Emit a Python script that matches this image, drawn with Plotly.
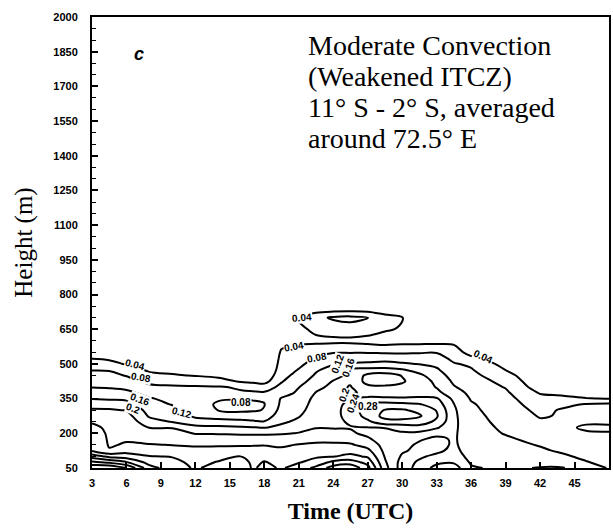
import numpy as np
import plotly.graph_objects as go

# ---------------- data ----------------
TIMES = [3, 4.5, 6, 8, 10, 12, 14, 16, 17, 18, 19.5, 21, 22.5, 24, 25.5, 27,
         28.5, 30, 31.5, 33, 34.5, 36, 39, 42, 44, 46, 48]
HEIGHTS = [50, 75, 100, 125, 150, 175, 200, 225, 250, 275, 300, 325, 350, 375,
           400, 425, 450, 475, 500, 525, 550, 600, 650, 700, 750, 2000]

# one vertical profile (bottom -> top, at HEIGHTS) per time in TIMES
P_T03 = [0.47, 0.41, 0.34, 0.277, 0.272, 0.268, 0.263, 0.252, 0.235, 0.22, 0.205, 0.185, 0.158, 0.14, 0.118, 0.107, 0.093, 0.078, 0.059, 0.038, 0.025, 0, 0, 0, 0, 0]
P_T045 = [0.48, 0.39, 0.31, 0.243, 0.237, 0.235, 0.233, 0.23, 0.226, 0.22, 0.205, 0.18, 0.155, 0.136, 0.116, 0.104, 0.09, 0.077, 0.055, 0.032, 0.02, 0, 0, 0, 0, 0]
P_T06 = [0.44, 0.362, 0.30, 0.265, 0.243, 0.237, 0.234, 0.23, 0.225, 0.215, 0.198, 0.175, 0.152, 0.13, 0.11, 0.095, 0.078, 0.06, 0.036, 0.02, 0.01, 0, 0, 0, 0, 0]
P_T08 = [0.335, 0.305, 0.282, 0.26, 0.242, 0.227, 0.213, 0.199, 0.175, 0.155, 0.145, 0.135, 0.123, 0.106, 0.089, 0.07, 0.051, 0.033, 0.02, 0.01, 0.005, 0, 0, 0, 0, 0]
P_T10 = [0.30, 0.29, 0.278, 0.258, 0.239, 0.226, 0.212, 0.198, 0.158, 0.145, 0.132, 0.118, 0.11, 0.1, 0.085, 0.066, 0.044, 0.028, 0.015, 0.005, 0, 0, 0, 0, 0, 0]
P_T12 = [0.275, 0.27, 0.262, 0.25, 0.236, 0.218, 0.198, 0.172, 0.138, 0.112, 0.1, 0.094, 0.09, 0.087, 0.083, 0.066, 0.038, 0.02, 0.01, 0, 0, 0, 0, 0, 0, 0]
P_T14 = [0.295, 0.282, 0.27, 0.252, 0.236, 0.218, 0.197, 0.17, 0.133, 0.105, 0.079, 0.076, 0.083, 0.087, 0.083, 0.055, 0.03, 0.015, 0.005, 0, 0, 0, 0, 0, 0, 0]
P_T16 = [0.31, 0.296, 0.281, 0.256, 0.236, 0.216, 0.195, 0.165, 0.13, 0.1, 0.072, 0.07, 0.082, 0.084, 0.075, 0.035, 0.015, 0.005, 0, 0, 0, 0, 0, 0, 0, 0]
P_T17 = [0.274, 0.272, 0.268, 0.255, 0.237, 0.217, 0.194, 0.162, 0.125, 0.1, 0.075, 0.074, 0.083, 0.084, 0.07, 0.03, 0.012, 0.002, 0, 0, 0, 0, 0, 0, 0, 0]
P_T18 = [0.292, 0.282, 0.27, 0.255, 0.238, 0.218, 0.194, 0.158, 0.122, 0.1, 0.082, 0.079, 0.083, 0.084, 0.062, 0.025, 0.01, 0, 0, 0, 0, 0, 0, 0, 0, 0]
P_T195 = [0.275, 0.27, 0.262, 0.247, 0.235, 0.218, 0.196, 0.172, 0.152, 0.14, 0.133, 0.127, 0.123, 0.105, 0.09, 0.077, 0.065, 0.058, 0.052, 0.048, 0.044, 0.03, 0, 0, 0, 0]
P_T21 = [0.3, 0.277, 0.265, 0.252, 0.242, 0.225, 0.202, 0.185, 0.17, 0.157, 0.147, 0.14, 0.133, 0.126, 0.119, 0.107, 0.095, 0.082, 0.07, 0.058, 0.05, 0.035, 0.03, 0.045, 0, 0]
P_T225 = [0.33, 0.295, 0.275, 0.26, 0.245, 0.232, 0.215, 0.198, 0.192, 0.187, 0.182, 0.177, 0.172, 0.162, 0.15, 0.135, 0.125, 0.115, 0.098, 0.083, 0.068, 0.03, 0.05, 0.07, 0, 0]
P_T24 = [0.38, 0.33, 0.278, 0.262, 0.245, 0.232, 0.213, 0.197, 0.19, 0.187, 0.186, 0.185, 0.182, 0.175, 0.17, 0.162, 0.148, 0.133, 0.117, 0.097, 0.078, 0.03, 0.06, 0.085, 0, 0]
P_T255 = [0.39, 0.34, 0.29, 0.265, 0.245, 0.225, 0.205, 0.198, 0.205, 0.215, 0.218, 0.212, 0.198, 0.157, 0.158, 0.165, 0.168, 0.163, 0.125, 0.1, 0.078, 0.03, 0.065, 0.09, 0, 0]
P_T27 = [0.335, 0.305, 0.275, 0.25, 0.225, 0.205, 0.192, 0.199, 0.232, 0.255, 0.26, 0.25, 0.215, 0.165, 0.19, 0.215, 0.21, 0.17, 0.128, 0.1, 0.078, 0.025, 0.06, 0.082, 0, 0]
P_T285 = [0.215, 0.205, 0.197, 0.19, 0.186, 0.182, 0.188, 0.202, 0.267, 0.292, 0.282, 0.255, 0.21, 0.168, 0.195, 0.215, 0.218, 0.172, 0.13, 0.105, 0.075, 0.02, 0.045, 0.055, 0, 0]
P_T30 = [0.14, 0.145, 0.155, 0.165, 0.175, 0.185, 0.195, 0.215, 0.265, 0.3, 0.285, 0.25, 0.208, 0.168, 0.19, 0.205, 0.198, 0.163, 0.125, 0.1, 0.075, 0.025, 0.036, 0.042, 0, 0]
P_T315 = [0.175, 0.165, 0.155, 0.15, 0.152, 0.165, 0.19, 0.225, 0.26, 0.285, 0.27, 0.243, 0.21, 0.172, 0.18, 0.178, 0.168, 0.145, 0.118, 0.098, 0.077, 0.025, 0, 0, 0, 0]
P_T33 = [0.215, 0.19, 0.168, 0.152, 0.145, 0.15, 0.172, 0.205, 0.232, 0.245, 0.238, 0.222, 0.205, 0.17, 0.158, 0.152, 0.14, 0.125, 0.11, 0.095, 0.078, 0.025, 0, 0, 0, 0]
P_T345 = [0.22, 0.195, 0.178, 0.17, 0.166, 0.165, 0.166, 0.168, 0.169, 0.168, 0.166, 0.161, 0.15, 0.138, 0.123, 0.113, 0.103, 0.094, 0.083, 0.07, 0.058, 0.03, 0, 0, 0, 0]
P_T36 = [0.165, 0.155, 0.148, 0.143, 0.14, 0.138, 0.136, 0.134, 0.132, 0.13, 0.127, 0.124, 0.117, 0.11, 0.103, 0.096, 0.09, 0.083, 0.074, 0.048, 0.025, 0, 0, 0, 0, 0]
P_T39 = [0.15, 0.145, 0.14, 0.135, 0.13, 0.125, 0.118, 0.114, 0.11, 0.106, 0.102, 0.097, 0.092, 0.086, 0.078, 0.07, 0.057, 0.039, 0.025, 0.012, 0.005, 0, 0, 0, 0, 0]
P_T42 = [0.163, 0.143, 0.133, 0.125, 0.118, 0.11, 0.101, 0.093, 0.085, 0.077, 0.07, 0.062, 0.053, 0.037, 0.02, 0.008, 0, 0, 0, 0, 0, 0, 0, 0, 0, 0]
P_T44 = [0.162, 0.137, 0.125, 0.115, 0.107, 0.1, 0.093, 0.086, 0.081, 0.083, 0.084, 0.072, 0.05, 0.03, 0.01, 0, 0, 0, 0, 0, 0, 0, 0, 0, 0, 0]
P_T46 = [0.135, 0.122, 0.113, 0.105, 0.098, 0.091, 0.083, 0.076, 0.084, 0.09, 0.091, 0.083, 0.042, 0.02, 0.005, 0, 0, 0, 0, 0, 0, 0, 0, 0, 0, 0]
P_T48 = [0.118, 0.11, 0.104, 0.098, 0.092, 0.087, 0.082, 0.075, 0.085, 0.091, 0.093, 0.087, 0.038, 0.02, 0.005, 0, 0, 0, 0, 0, 0, 0, 0, 0, 0, 0]

PROFILES = [P_T03, P_T045, P_T06, P_T08, P_T10, P_T12, P_T14, P_T16, P_T17, P_T18,
            P_T195, P_T21, P_T225, P_T24, P_T255, P_T27, P_T285, P_T30, P_T315,
            P_T33, P_T345, P_T36, P_T39, P_T42, P_T44, P_T46, P_T48]

LEVEL_START, LEVEL_END, LEVEL_STEP = 0.04, 0.48, 0.04

X_TICKS = [3, 6, 9, 12, 15, 18, 21, 24, 27, 30, 33, 36, 39, 42, 45, 48]
Y_TICKS = [50, 200, 350, 500, 650, 800, 950, 1100, 1250, 1400, 1550, 1700, 1850, 2000]

# contour labels as printed on the figure
LABEL_TEXT = ["0.04", "0.08", "0.16", "0.2", "0.12", "0.08", "0.04", "0.08", "0.04",
              "0.12", "0.16", "0.2", "0.24", "0.28", "0.04"]
LABEL_T = [6.7, 7.3, 7.2, 6.6, 10.8, 16.0, 20.6, 22.6, 21.3,
           24.4, 25.3, 24.9, 25.7, 27.0, 37.0]
LABEL_H = [497, 440, 345, 307, 292, 335, 575, 528, 700,
           500, 486, 365, 330, 315, 530]
LABEL_ANGLE = [15, 10, 20, 20, 15, 0, -10, -10, -5, -70, -70, -70, -70, 0, 25]

INFO_LINES = ["Moderate Convection", "(Weakened ITCZ)",
              "11° S - 2° S, averaged", "around 72.5° E"]

# ---------------- figure ----------------
z = np.array(PROFILES, dtype=float).T

W, H = 613, 532
ML, MR, MT, MB = 92, 2, 17, 64
plot_w = W - ML - MR
plot_h = H - MT - MB

fig = go.Figure(go.Contour(
    x=TIMES, y=HEIGHTS, z=z,
    contours=dict(start=LEVEL_START, end=LEVEL_END, size=LEVEL_STEP,
                  coloring="none", showlabels=False),
    line=dict(color="black", width=2, smoothing=1.0),
    showscale=False, hoverinfo="skip",
))

tickfont = dict(family="Liberation Sans", size=11, color="black", weight="bold")

fig.update_layout(
    width=W, height=H,
    margin=dict(l=ML, r=MR, t=MT, b=MB, pad=0),
    paper_bgcolor="white", plot_bgcolor="white",
    showlegend=False,
    xaxis=dict(range=[3, 48], tickvals=X_TICKS, ticktext=[str(v) for v in X_TICKS],
               ticks="inside", ticklen=6, tickwidth=1.5, tickcolor="black",
               showline=True, linecolor="black", linewidth=2, mirror=True,
               showgrid=False, zeroline=False, tickfont=tickfont,
               ticklabelstandoff=4,
               title=dict(text="Time (UTC)", standoff=14,
                          font=dict(family="Liberation Serif", size=24, color="black",
                                    weight="bold"))),
    yaxis=dict(range=[50, 2000], tickvals=Y_TICKS, ticktext=[str(v) for v in Y_TICKS],
               ticks="inside", ticklen=6, tickwidth=1.5, tickcolor="black",
               minor=dict(tickvals=list(range(50, 2001, 50)), ticks="inside",
                         ticklen=4, tickwidth=1.2, tickcolor="black"),
               showline=True, linecolor="black", linewidth=2, mirror=True,
               showgrid=False, zeroline=False, tickfont=tickfont,
               ticklabelstandoff=10,
               title=dict(text="Height (m)", standoff=14,
                          font=dict(family="Liberation Serif", size=25, color="black"))),
)

ann = []
for txt, t, h, a in zip(LABEL_TEXT, LABEL_T, LABEL_H, LABEL_ANGLE):
    ann.append(dict(x=t, y=h, xref="x", yref="y", text=txt, showarrow=False,
                    textangle=a, bgcolor="white", borderpad=0,
                    font=dict(family="Liberation Sans", size=10, color="black",
                              weight="bold")))

ann.append(dict(x=(132 - ML) / plot_w, y=(H - MB - 42) / plot_h,
                xref="paper", yref="paper", text="<b><i>c</i></b>", showarrow=False,
                font=dict(family="Liberation Sans", size=18, color="black")))

for i, line in enumerate(INFO_LINES):
    ypix = 45 + i * 31
    ann.append(dict(x=(307 - ML) / plot_w, y=(H - MB - ypix) / plot_h,
                    xref="paper", yref="paper", xanchor="left", yanchor="middle",
                    text=line, showarrow=False,
                    font=dict(family="Liberation Serif", size=28, color="black")))

fig.update_layout(annotations=ann)

fig.write_html("out.html", config={"displayModeBar": False},
               post_script="document.body.style.margin='0px';document.body.style.overflow='hidden';")
